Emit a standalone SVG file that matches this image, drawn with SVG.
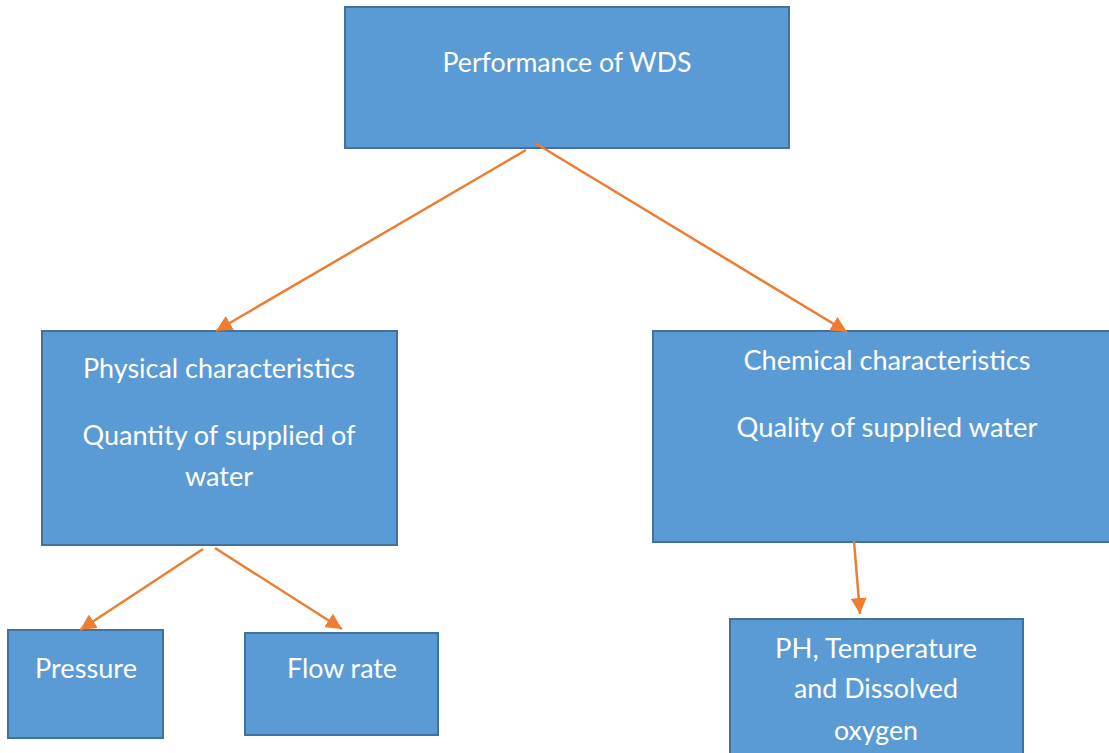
<svg xmlns="http://www.w3.org/2000/svg" width="1109" height="753" viewBox="0 0 1109 753">
<style>
.box{fill:#5B9BD5;stroke:#41719C;stroke-width:2}
.t{font-family:Lato,"Open Sans","Noto Sans",sans-serif;font-size:26px;fill:#ffffff;text-anchor:middle}
.c{stroke:#ED7D31;stroke-width:2.5;fill:none;marker-end:url(#ah)}
</style>
<defs>
<marker id="ah" markerUnits="userSpaceOnUse" markerWidth="18" markerHeight="16" refX="16" refY="8" orient="auto">
<path d="M0,0 L16,8 L0,16 Z" fill="#ED7D31"/>
</marker>
</defs>
<rect width="1109" height="753" fill="#ffffff"/>
<g id="performance">
<rect class="box" x="345" y="7" width="444" height="141"/>
<text class="t" x="567" y="72" textLength="249" lengthAdjust="spacingAndGlyphs">Performance of WDS</text>
</g>
<g id="physical">
<rect class="box" x="42" y="331" width="355" height="214"/>
<text class="t" x="219" y="378" textLength="272" lengthAdjust="spacingAndGlyphs">Physical characteristics</text>
<text class="t" x="219" y="445" textLength="273" lengthAdjust="spacingAndGlyphs">Quantity of supplied of</text>
<text class="t" x="219" y="486" textLength="68" lengthAdjust="spacingAndGlyphs">water</text>
</g>
<g id="chemical">
<rect class="box" x="653" y="331" width="470" height="211"/>
<text class="t" x="887" y="370" textLength="287" lengthAdjust="spacingAndGlyphs">Chemical characteristics</text>
<text class="t" x="887" y="437" textLength="301" lengthAdjust="spacingAndGlyphs">Quality of supplied water</text>
</g>
<g id="pressure">
<rect class="box" x="8" y="630" width="155" height="108"/>
<text class="t" x="86" y="678" textLength="102" lengthAdjust="spacingAndGlyphs">Pressure</text>
</g>
<g id="flowrate">
<rect class="box" x="245" y="633" width="193" height="102"/>
<text class="t" x="342" y="678" textLength="110" lengthAdjust="spacingAndGlyphs">Flow rate</text>
</g>
<g id="ph">
<rect class="box" x="730" y="619" width="293" height="150"/>
<text class="t" x="876" y="658" textLength="202" lengthAdjust="spacingAndGlyphs">PH, Temperature</text>
<text class="t" x="876" y="698" textLength="164" lengthAdjust="spacingAndGlyphs">and Dissolved</text>
<text class="t" x="876" y="740" textLength="84" lengthAdjust="spacingAndGlyphs">oxygen</text>
</g>
<g id="connectors">
<line class="c" x1="526" y1="150" x2="216" y2="331"/>
<line class="c" x1="535" y1="143" x2="847" y2="332"/>
<line class="c" x1="203" y1="549" x2="80" y2="630"/>
<line class="c" x1="215" y1="548" x2="342" y2="629"/>
<line class="c" x1="854" y1="541" x2="860" y2="614"/>
</g>
</svg>
